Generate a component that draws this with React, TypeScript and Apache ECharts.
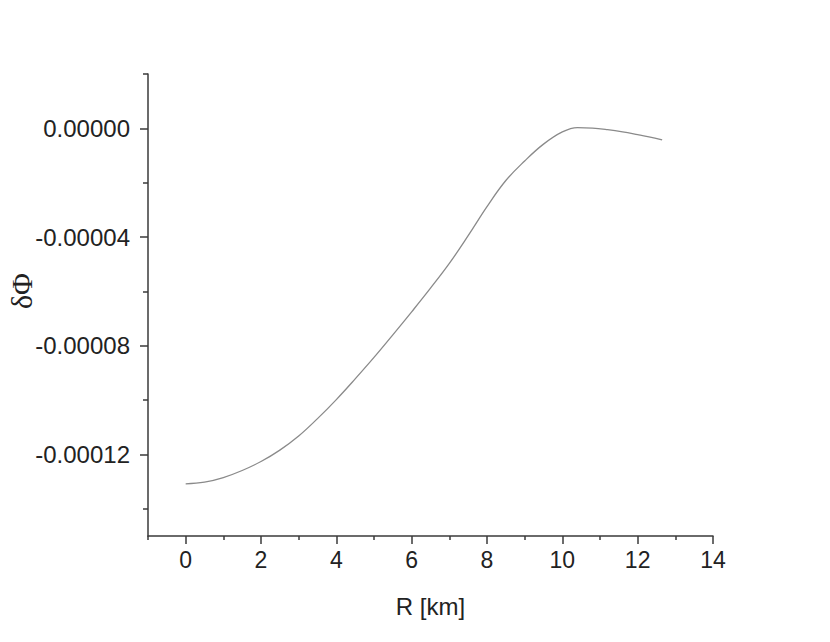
import React, { useEffect, useRef } from "react";
import * as echarts from "echarts";

const rValues = [0, 0.5, 1, 1.5, 2, 2.5, 3, 3.5, 4, 4.5, 5, 5.5, 6, 6.5, 7, 7.5, 8, 8.5, 9, 9.5, 10, 10.4, 10.8, 11.2, 11.6, 12, 12.3, 12.65];
const dPhiE5 = [-13.08, -13.02, -12.85, -12.59, -12.26, -11.84, -11.32, -10.68, -9.98, -9.22, -8.43, -7.6, -6.75, -5.88, -4.97, -3.95, -2.88, -1.92, -1.2, -0.58, -0.13, 0.03, 0.01, -0.05, -0.13, -0.23, -0.31, -0.42];
const yLabelTicks = [-0.00012, -0.00008, -0.00004, 0];
const yMinorTicks = [-0.00014, -0.0001, -0.00006, -0.00002, 0.00002];
const xLabelTicks = [0, 2, 4, 6, 8, 10, 12, 14];
const xMinorTicks = [-1, 1, 3, 5, 7, 9, 11, 13];

const FONT = "'Liberation Sans', Arial, Helvetica, sans-serif";

export default function App() {
  const ref = useRef<HTMLDivElement>(null);
  useEffect(() => {
    if (!ref.current) return;
    const chart = echarts.init(ref.current, null, { renderer: "svg" });
    const axisLine = { show: true, onZero: false, lineStyle: { color: "#3a3a3a", width: 1.5 } };
    const tickStyle = { color: "#3a3a3a", width: 1.5 };
    const data = rValues.map((r, i) => [r, dPhiE5[i] * 1e-5]);
    chart.setOption({
      animation: false,
      backgroundColor: "#ffffff",
      grid: { left: 148, right: 117, top: 74, bottom: 106, containLabel: false },
      xAxis: [
        {
          type: "value",
          min: -1,
          max: 14,
          axisLine,
          splitLine: { show: false },
          axisTick: { show: true, inside: false, length: 8, customValues: xLabelTicks, lineStyle: tickStyle },
          axisLabel: { customValues: xLabelTicks, margin: 12, fontSize: 23, color: "#222", fontFamily: FONT },
          name: "R [km]",
          nameLocation: "middle",
          nameGap: 58,
          nameTextStyle: { fontSize: 24, color: "#222", fontFamily: FONT },
        },
        {
          type: "value",
          min: -1,
          max: 14,
          position: "bottom",
          axisLine: { show: false, onZero: false },
          splitLine: { show: false },
          axisTick: { show: true, inside: false, length: 4, customValues: xMinorTicks, lineStyle: tickStyle },
          axisLabel: { show: false },
        },
      ],
      yAxis: [
        {
          type: "value",
          min: -0.00015,
          max: 0.00002,
          axisLine,
          splitLine: { show: false },
          axisTick: { show: true, inside: false, length: 8, customValues: yLabelTicks, lineStyle: tickStyle },
          axisLabel: {
            customValues: yLabelTicks,
            margin: 18,
            fontSize: 24,
            color: "#222",
            fontFamily: FONT,
            formatter: (v: number) => v.toFixed(5),
          },
        },
        {
          type: "value",
          min: -0.00015,
          max: 0.00002,
          position: "left",
          axisLine: { show: false, onZero: false },
          splitLine: { show: false },
          axisTick: { show: true, inside: false, length: 5, customValues: yMinorTicks, lineStyle: tickStyle },
          axisLabel: { show: false },
        },
      ],
      graphic: [
        {
          type: "text",
          x: 21,
          y: 291,
          rotation: Math.PI / 2,
          style: {
            text: "δΦ",
            fontSize: 30,
            fontFamily: "'Liberation Serif', 'DejaVu Serif', serif",
            fill: "#222",
            align: "center",
            verticalAlign: "middle",
          },
        },
      ],
      series: [
        {
          type: "line",
          xAxisIndex: 0,
          yAxisIndex: 0,
          data,
          smooth: 0.4,
          showSymbol: false,
          lineStyle: { color: "#8a8a8a", width: 1.3 },
        },
      ],
    });
    return () => chart.dispose();
  }, []);
  return <div ref={ref} style={{ width: 830, height: 642, position: "absolute", left: 0, top: 0 }} />;
}
